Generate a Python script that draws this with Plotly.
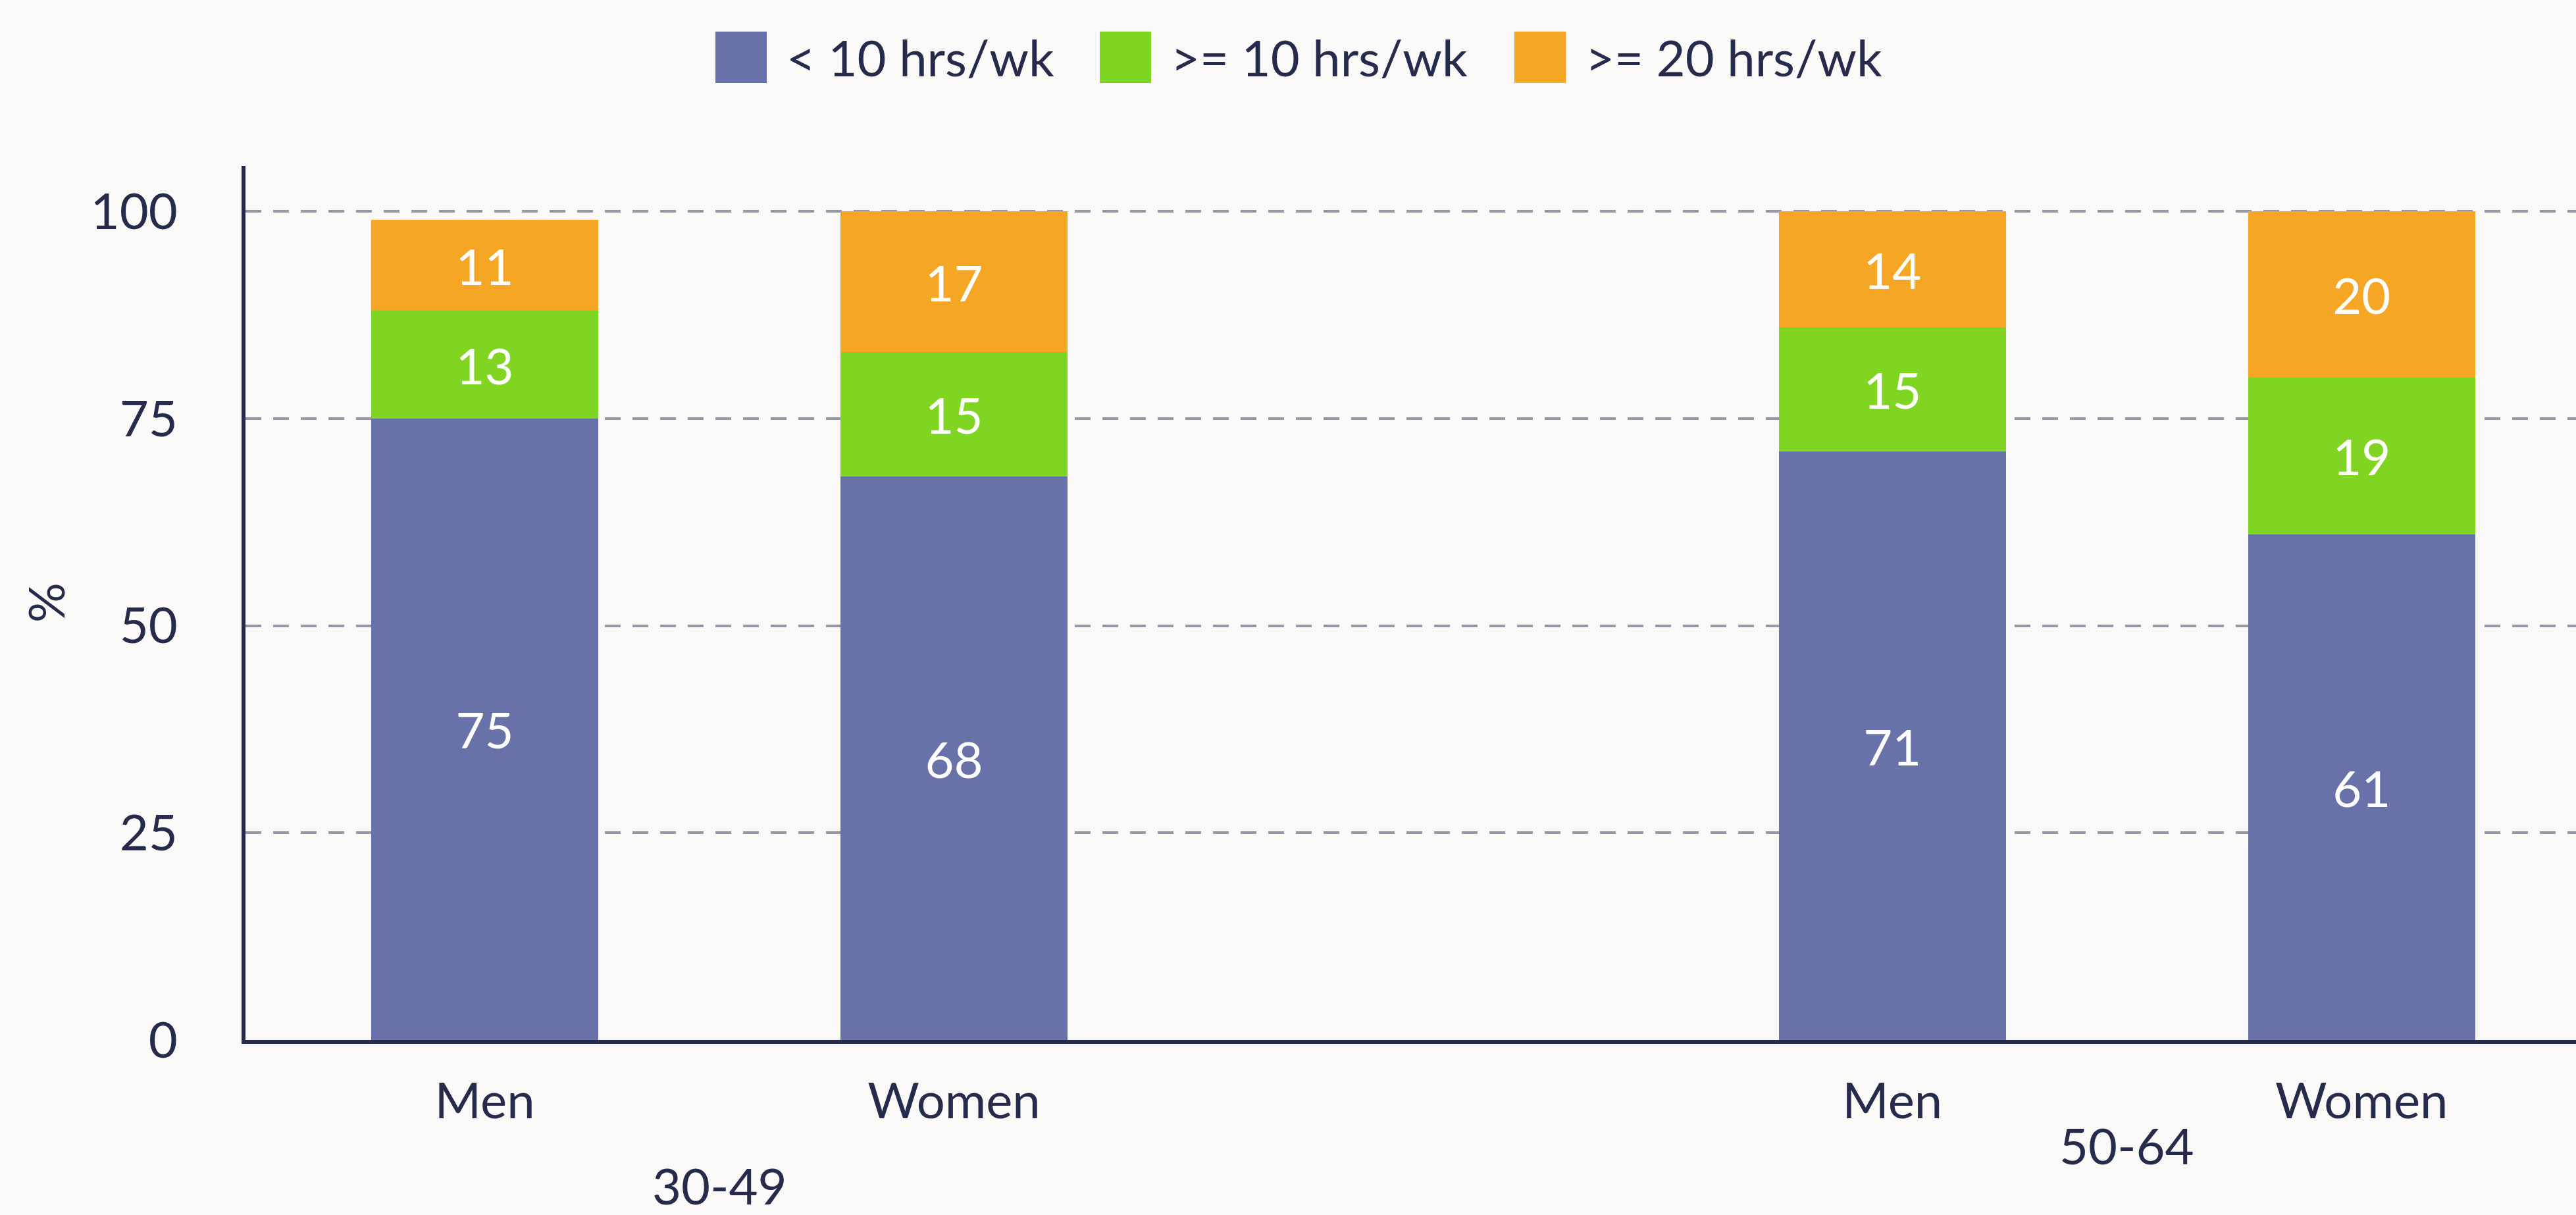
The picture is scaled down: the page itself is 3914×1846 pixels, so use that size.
import plotly.graph_objects as go

# ---- data ----
categories = ["Men", "Women", "Men", "Women"]
groups = ["30-49", "50-64"]
series_names = ["< 10 hrs/wk", ">= 10 hrs/wk", ">= 20 hrs/wk"]
under10 = [75, 68, 71, 61]
over10 = [13, 15, 15, 19]
over20 = [11, 17, 14, 20]
y_ticks = [0, 25, 50, 75, 100]

# ---- style ----
colors = ["#6872a8", "#80d422", "#f5a624"]
navy = "#262b4b"
bg = "#faf9f7"
font_family = "Lato"
fs = 76

W, H = 3914, 1846
L, R, T, B = 373, 0, 252, 266
pw, ph = W - L - R, H - T - B

def px_x(x):
    return (x - L) / pw

def px_y(y):
    return (H - B - y) / ph

xpos = [0, 1, 3, 4]
group_x = [0.5, 3.5]

fig = go.Figure()
for name, vals, col in zip(series_names, [under10, over10, over20], colors):
    fig.add_trace(go.Bar(
        x=xpos, y=vals, name=name, width=0.484,
        marker=dict(color=col, line=dict(width=0)),
        text=[str(v) for v in vals], textposition="inside",
        insidetextanchor="middle", constraintext="none",
        textfont=dict(color="white", size=fs, family=font_family),
        showlegend=False, hoverinfo="skip",
    ))

# custom legend
sq_left = [1087, 1671, 2301]
sq_top, sq_size = 48, 78
for i, (name, col) in enumerate(zip(series_names, colors)):
    fig.add_shape(type="rect", xref="paper", yref="paper",
                  x0=px_x(sq_left[i]), x1=px_x(sq_left[i] + sq_size),
                  y0=px_y(sq_top + sq_size), y1=px_y(sq_top),
                  fillcolor=col, line=dict(width=0))
    fig.add_annotation(xref="paper", yref="paper",
                       x=px_x(sq_left[i] + sq_size + 28), y=px_y(sq_top + sq_size / 2),
                       xanchor="left", yanchor="middle", showarrow=False,
                       text=name, font=dict(size=fs, color=navy, family=font_family))

# group labels
group_y = [1800, 1739]
for g, gx, gy in zip(groups, group_x, group_y):
    fig.add_annotation(xref="x", yref="paper", x=gx, y=px_y(gy),
                       xanchor="center", yanchor="middle", showarrow=False,
                       text=g, font=dict(size=fs, color=navy, family=font_family))

# y axis title
fig.add_annotation(xref="paper", yref="paper", x=px_x(68), y=0.5,
                   xanchor="center", yanchor="middle", showarrow=False,
                   text="%", textangle=-90,
                   font=dict(size=fs, color=navy, family=font_family))

fig.update_layout(
    barmode="stack",
    width=W, height=H,
    margin=dict(l=L, r=R, t=T, b=B, pad=0),
    paper_bgcolor=bg, plot_bgcolor=bg,
    font=dict(family=font_family, size=fs, color=navy),
    showlegend=False,
    xaxis=dict(
        range=[-0.51, 4.457], tickmode="array", tickvals=xpos, ticktext=categories,
        showgrid=False, zeroline=False, showline=True, linecolor=navy, linewidth=6,
        ticks="", ticklabelstandoff=22, tickfont=dict(size=fs, color=navy),
        fixedrange=True,
    ),
    yaxis=dict(
        range=[0, 105.5], tickmode="array", tickvals=y_ticks,
        showgrid=True, gridcolor="#9696a5", gridwidth=4, griddash="24px,18px",
        zeroline=False, showline=True, linecolor=navy, linewidth=6,
        ticks="", ticklabelstandoff=82, tickfont=dict(size=fs, color=navy),
        fixedrange=True,
    ),
)

fig.write_html("out.html")
